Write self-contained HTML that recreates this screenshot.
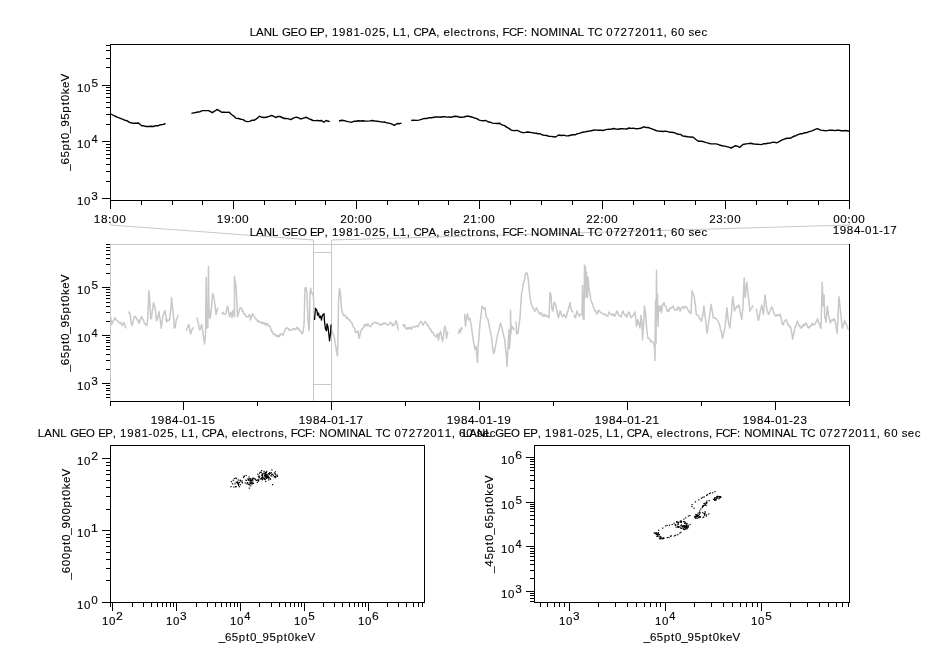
<!DOCTYPE html>
<html><head><meta charset="utf-8"><style>
html,body{margin:0;padding:0;background:#fff;}
svg{display:block;will-change:transform;}
text{font-family:"Liberation Sans",sans-serif;font-size:11.3px;fill:#000;stroke:#000;stroke-width:0.12px;}
</style></head><body>
<svg width="926" height="647" viewBox="0 0 926 647">
<rect width="926" height="647" fill="#fff"/>
<polyline points="110.5,222 110.5,225 313.5,240 313.5,401" fill="none" stroke="#c8c8c8" stroke-width="1"/>
<polyline points="849.5,222 849.5,225 331.5,240 331.5,401" fill="none" stroke="#c8c8c8" stroke-width="1"/>
<rect x="314" y="252" width="17" height="1" fill="#c8c8c8"/>
<rect x="314" y="384" width="17" height="1" fill="#c8c8c8"/>
<rect x="110" y="244" width="740" height="1" fill="#c8c8c8"/>
<rect x="110" y="244" width="1" height="158" fill="#c8c8c8"/>
<polyline points="110.8,317.1 111.7,324.5 112.6,322.7 113.2,320.5 113.8,320.0 114.4,319.6 115.0,317.6 115.8,319.2 116.5,320.3 117.3,320.8 118.0,321.2 118.7,322.7 119.4,322.6 120.1,323.1 120.9,322.8 121.6,324.6 122.4,325.5 123.3,323.1 124.2,323.1 125.0,325.9 125.8,327.7 126.6,328.2" fill="none" stroke="#c8c8c8" stroke-width="1.5" stroke-linejoin="round"/>
<polyline points="128.4,311.5 129.0,313.0 129.7,313.2 130.3,315.3 131.0,321.6 131.7,325.5 132.4,324.4 133.1,321.0 133.7,319.3 134.4,316.6 135.0,316.5 135.6,317.1 136.2,317.9 136.8,319.0 137.5,320.4 138.2,320.1 138.8,323.0 139.5,322.7 140.1,320.1 140.7,318.9 141.3,317.1 141.9,316.6 142.6,319.1 143.2,319.8 143.9,321.8 144.6,323.6 145.2,323.6 145.8,324.9 146.4,324.8 147.0,325.5 147.9,316.2 148.8,290.7 149.7,298.6 150.7,319.0 151.6,317.1 152.2,311.5 152.9,307.3 153.5,302.7 154.1,304.5 154.7,306.4 155.3,309.7 156.0,316.1 156.7,320.8 157.5,318.2 158.2,315.0 159.0,311.5 159.7,317.1 160.4,320.8 161.3,328.2 162.0,322.4 162.7,317.1 163.5,314.6 164.2,312.6 165.0,310.6 165.7,315.9 166.4,321.7 167.0,321.8 167.7,319.7 168.3,320.5 169.0,320.4 169.6,319.9 170.3,313.0 171.0,306.9 171.5,297.6 172.4,306.0 173.3,314.3 174.3,328.2 175.2,327.3 175.9,321.9 176.6,319.0 177.2,318.3 177.9,315.3 178.5,315.3" fill="none" stroke="#c8c8c8" stroke-width="1.5" stroke-linejoin="round"/>
<polyline points="186.3,331.0 187.1,327.9 187.9,327.0 188.7,324.5 189.3,326.7 189.9,331.3 190.5,333.8 191.3,332.1 192.0,329.5 192.8,327.8 193.3,329.2" fill="none" stroke="#c8c8c8" stroke-width="1.5" stroke-linejoin="round"/>
<polyline points="197.0,317.1 197.7,321.6 198.4,323.5 199.1,327.4 199.8,330.1 200.7,327.9 201.6,324.5 202.2,327.9 202.9,331.7 203.5,336.9 204.5,343.9 205.5,335.4 206.2,277.4 206.8,328.0 207.8,328.0 208.5,266.6 209.0,316.8 209.5,310.6 210.0,318.4 211.0,312.2 211.8,303.2 212.5,293.6 213.5,295.2 214.5,301.4 215.5,309.1 216.0,314.5 217.0,310.6 217.8,307.5" fill="none" stroke="#c8c8c8" stroke-width="1.5" stroke-linejoin="round"/>
<polyline points="221.5,313.0 222.2,313.8 223.0,312.2 223.8,313.9 224.5,313.7 225.2,314.3 226.0,313.7 226.8,309.1 227.5,306.0 228.5,310.6 229.5,316.8 230.2,314.1 231.0,312.2 232.0,317.6 233.0,310.6 233.8,314.3 234.5,316.8 234.5,276.6 235.2,282.0 236.0,285.9 237.0,304.5 237.5,316.8 238.5,313.7 239.5,309.1 240.2,307.6 240.8,307.7 241.5,308.3 242.2,310.9 242.8,310.4 243.5,313.0 244.1,314.2 244.8,314.1 245.4,315.6 246.0,316.0 246.7,317.2 247.3,316.7 248.0,316.8 248.8,315.4 249.5,314.5 250.5,320.0 251.2,317.4 251.8,316.1 252.5,313.7 253.2,315.1 253.8,315.5 254.5,316.8 255.1,317.7 255.7,318.8 256.3,319.0 256.9,319.7 257.5,321.5 258.2,321.8 258.9,320.7 259.6,322.2 260.3,322.8 261.0,322.2 261.6,323.2 262.2,321.9 262.8,322.5 263.4,323.9 264.0,323.0 264.6,322.9 265.2,324.9 265.8,323.1 266.4,325.1 267.0,324.5 267.6,323.6 268.2,325.6 268.8,326.3 269.4,325.9 270.0,326.1 270.6,328.0 271.2,330.3 271.8,332.0 272.4,331.4 273.0,333.8 273.6,334.3 274.2,333.5 274.8,334.9 275.4,334.7 276.0,336.1 276.6,335.4 277.2,336.7 277.8,335.5 278.4,335.8 279.0,336.9 279.7,334.6 280.3,335.6 281.0,333.8 281.7,333.7 282.3,333.8 283.0,335.4 283.7,333.6 284.3,331.8 285.0,329.2 285.7,329.0 286.3,328.3 287.0,327.6 287.6,328.2 288.2,329.1 288.8,328.5 289.4,330.4 290.0,330.0 290.6,330.2 291.2,330.3 291.8,330.1 292.4,329.6 293.0,328.4 293.6,328.6 294.2,328.8 294.8,329.5 295.4,329.2 296.0,329.2 296.8,327.2 297.5,327.6 298.1,329.5 298.8,328.4 299.4,329.9 300.0,330.7 300.7,331.6 301.3,331.7 302.0,333.8 303.0,332.3 304.0,324.5 305.0,288.2 306.0,287.5 307.0,293.6 308.0,320.0 309.0,330.7 309.5,321.5 310.0,292.1 310.8,288.2 311.5,293.6 312.1,293.5 312.8,292.9 313.5,298.3 314.0,309.1" fill="none" stroke="#c8c8c8" stroke-width="1.5" stroke-linejoin="round"/>
<polyline points="331.5,329.2 332.2,332.5 333.0,333.8 333.8,335.8 334.5,338.5 335.2,343.9 336.0,347.7 336.8,353.0 337.5,355.9 338.0,335.4 338.5,301.4 339.5,288.2 340.5,293.6 341.5,309.1 342.2,311.3 343.0,314.5 343.6,315.7 344.2,315.0 344.8,315.0 345.4,315.9 346.0,316.8 346.6,318.1 347.2,317.2 347.8,319.1 348.4,319.0 349.0,320.0 349.6,319.7 350.2,321.0 350.8,321.5 351.4,322.3 352.0,323.0 352.7,325.5 353.3,327.2 354.0,327.6 354.7,328.5 355.3,332.0 356.0,332.3 356.7,332.1 357.3,332.4 358.0,330.7 359.0,338.5 359.7,336.7 360.3,333.4 361.0,330.7 361.7,329.0 362.3,329.7 363.0,327.6 363.8,327.3 364.5,324.5 365.2,325.6 366.0,326.1 366.7,324.3 367.3,325.4 368.0,323.8 368.7,325.3 369.3,326.3 370.0,326.1 370.7,326.6 371.3,325.8 372.0,323.8 372.6,324.1 373.2,322.9 373.8,322.9 374.4,322.5 375.0,322.2 375.6,323.0 376.2,322.8 376.8,323.5 377.4,322.9 378.0,323.0 378.6,323.5 379.2,324.8 379.8,324.7 380.4,325.3 381.0,324.5 381.6,324.9 382.2,323.2 382.8,323.9 383.4,323.4 384.0,323.8 384.6,323.3 385.2,323.1 385.8,323.2 386.4,324.3 387.0,324.5 387.6,324.9 388.2,324.9 388.8,324.8 389.4,323.5 390.0,323.0 390.6,322.2 391.2,323.1 391.8,323.2 392.4,325.8 393.0,325.3 393.7,324.3 394.3,324.9 395.0,323.8 396.0,320.7 396.8,323.3 397.5,326.1 398.5,330.7" fill="none" stroke="#c8c8c8" stroke-width="1.5" stroke-linejoin="round"/>
<polyline points="402.5,324.5 403.1,325.4 403.8,326.3 404.4,324.4 405.0,326.1 405.7,328.3 406.3,329.0 407.0,329.2 407.7,327.5 408.3,328.9 409.0,327.6 409.7,328.7 410.3,327.3 411.0,328.4 411.7,329.1 412.3,327.0 413.0,326.9 413.6,326.6 414.2,327.0 414.8,326.9 415.4,326.9 416.0,326.1 416.7,325.8 417.3,326.6 418.0,326.9 418.8,324.4 419.5,323.8 420.5,321.5 421.2,321.7 422.0,323.0 423.0,325.3 423.8,323.7 424.5,322.2 425.2,321.5 426.0,323.0 426.7,323.4 427.3,325.4 428.0,325.3 428.7,325.8 429.3,327.7 430.0,329.2 430.7,329.0 431.3,331.9 432.0,332.3 432.7,332.0 433.3,333.0 434.0,334.6 434.7,336.0 435.3,336.0 436.0,336.9 436.8,335.5 437.5,333.8 438.5,340.0 439.5,333.8 440.5,331.5 441.5,336.9 442.5,341.6 443.5,335.4 444.5,327.6 445.0,326.1 446.0,330.7 446.5,338.5 447.5,332.3 448.0,333.8" fill="none" stroke="#c8c8c8" stroke-width="1.5" stroke-linejoin="round"/>
<polyline points="458.5,333.8 459.5,329.2 460.5,332.3 461.5,327.6 462.5,329.2" fill="none" stroke="#c8c8c8" stroke-width="1.5" stroke-linejoin="round"/>
<polyline points="464.5,313.7 465.5,326.1 466.5,316.8 467.5,313.7 468.5,320.0 469.2,318.2 470.0,318.4 471.0,324.5 472.0,330.7 473.0,338.5 474.0,344.6 475.0,349.3 476.0,346.2 476.8,355.1 477.5,362.4 478.0,347.7 479.0,336.9 480.0,323.0 481.0,315.3 482.0,306.0 483.0,307.5 484.0,309.1 485.0,307.6 485.8,313.7 486.5,317.8 487.2,318.4 488.0,319.5 488.8,323.2 489.5,328.0 490.2,330.6 491.0,334.8 491.8,339.7 492.5,346.7 493.5,353.5 494.5,351.8 495.2,346.8 496.0,343.3 496.8,338.3 497.5,334.8 498.2,333.2 499.0,329.7 499.8,325.5 500.5,322.9 501.5,326.3 502.2,328.9 503.0,333.1 503.8,336.8 504.5,338.2 505.5,348.4 506.5,356.9 507.0,366.3 507.5,356.9 508.5,338.2 509.0,329.7 509.5,348.4 510.5,334.8 510.5,310.2 511.0,333.1 511.5,325.5 512.2,328.0 512.8,327.3 513.5,329.7 514.0,328.0" fill="none" stroke="#c8c8c8" stroke-width="1.5" stroke-linejoin="round"/>
<polyline points="516.0,321.2 516.5,334.0 517.2,333.0 518.0,333.1 519.0,324.6 520.0,317.8 520.5,309.3 521.5,294.0 522.5,288.9 523.5,282.1 524.5,280.4 525.5,273.6 526.2,273.1 527.0,272.8 528.0,277.0 529.0,287.2 530.0,297.4 531.0,302.5 531.8,305.2 532.5,307.6 533.2,307.7 533.8,309.9 534.5,311.0 535.2,311.1 535.8,308.9 536.5,307.6 537.2,309.3 538.0,311.0 538.7,312.9 539.3,313.1 540.0,314.4 540.8,313.0 541.5,312.7 542.2,315.3 543.0,316.1 543.7,314.7 544.3,316.0 545.0,314.4 545.7,316.0 546.3,315.7 547.0,316.1 547.7,316.7 548.3,316.1 549.0,317.8 549.5,305.9 550.0,292.3 551.0,295.7 552.0,309.3 553.0,311.0 554.0,302.5 554.8,302.5 555.5,304.2 556.2,308.3 557.0,311.0 557.8,315.0 558.5,317.8 559.2,314.7 560.0,311.0 560.7,311.8 561.3,315.0 562.0,316.1 562.7,316.8 563.3,315.9 564.0,314.4 564.7,316.0 565.3,316.5 566.0,317.8 566.7,315.3 567.3,312.4 568.0,311.0 568.7,307.0 569.3,306.5 570.0,302.5 571.0,309.3 572.0,311.0 573.0,312.7" fill="none" stroke="#c8c8c8" stroke-width="1.5" stroke-linejoin="round"/>
<polyline points="574.0,314.4 574.8,317.2 575.5,317.8 576.2,314.1 577.0,311.0 577.7,313.5 578.3,313.7 579.0,316.1 579.7,315.5 580.3,314.4 581.0,314.4 582.0,314.5 582.5,285.6 583.0,317.9 584.0,319.6 584.5,265.2 585.5,266.9 586.0,297.5 586.5,272.0 587.5,297.5 588.0,277.1 589.0,289.0 590.0,294.1 591.0,300.9 591.7,302.7 592.3,303.2 593.0,306.0 593.7,307.5 594.3,308.9 595.0,311.1 595.7,310.8 596.3,313.7 597.0,313.7 597.7,313.6 598.3,310.5 599.0,310.3 599.7,311.5 600.3,312.0 601.0,312.8 601.7,312.9 602.3,313.6 603.0,313.7 603.7,314.4 604.3,313.7 605.0,314.5 605.7,314.7 606.3,315.7 607.0,316.2 607.7,316.1 608.3,314.5 609.0,312.0 609.7,313.6 610.3,313.6 611.0,314.5 611.7,315.3 612.3,315.2 613.0,313.7 613.7,315.5 614.3,314.6 615.0,316.2 615.7,314.3 616.3,312.1 617.0,311.1 617.7,312.4 618.3,314.9 619.0,315.4 619.7,316.0 620.3,316.1 621.0,317.1 621.7,314.2 622.3,312.2 623.0,311.1 623.7,313.1 624.3,314.5 625.0,314.5 625.7,316.4 626.3,314.9 627.0,317.1 627.7,314.8 628.3,312.8 629.0,312.0 629.7,313.9 630.3,315.2 631.0,317.9 631.7,317.0 632.3,316.1 633.0,315.4 633.7,314.6 634.3,313.2 635.0,312.0 635.8,319.2 636.5,326.4 637.2,321.8 638.0,319.6 638.7,323.6 639.3,325.1 640.0,328.1 641.0,315.4 642.0,323.0 642.5,340.0 643.5,326.4 644.5,306.0 645.5,312.8 646.5,326.4 647.2,333.3 648.0,338.3 648.7,338.4 649.3,338.4 650.0,340.0 650.7,341.8 651.3,341.1 652.0,341.7 652.8,341.7 653.5,343.4 654.5,346.8 655.0,360.4 655.5,300.9 656.0,343.4 656.5,270.3 657.0,319.6 657.5,294.1 658.0,326.4 658.5,306.0 659.5,311.1 660.5,306.0 661.5,312.8 662.5,304.3 663.2,304.7 664.0,302.6 664.8,305.4 665.5,306.0 666.2,307.1 667.0,310.3 667.7,311.7 668.3,309.9 669.0,311.1 669.7,309.0 670.3,307.9 671.0,307.7 671.7,308.1 672.3,306.8 673.0,306.0 673.7,307.6 674.3,309.4 675.0,310.3 675.7,309.8 676.3,309.2 677.0,310.3 677.8,307.5 678.5,306.9 679.2,308.3 680.0,311.1 680.7,310.2 681.3,307.7 682.0,307.7 682.7,306.8 683.3,307.5 684.0,308.6 684.7,306.8 685.3,306.3 686.0,306.9 686.7,307.1 687.3,308.2 688.0,310.3 688.7,310.4 689.3,312.3 690.0,312.0 691.0,313.7 692.0,290.7 692.6,293.3 693.3,293.7 694.0,296.0 694.6,299.2 695.5,306.4 696.3,314.5 696.9,314.8 697.5,315.2 698.2,315.9 698.8,316.2 699.4,318.1 700.1,319.1 700.8,319.4 701.4,321.3 702.2,317.3 703.0,314.5 703.9,306.0 704.8,314.1 705.6,319.6 706.3,326.5 707.0,333.2 707.7,329.7 708.3,325.2 709.0,319.6 709.7,315.3 710.5,309.7 711.2,304.3 711.9,309.5 712.6,312.8 713.3,317.9 714.0,317.5 714.7,318.3 715.3,318.1 716.0,318.4 716.7,319.6 717.4,319.9 718.0,321.5 718.7,322.4 719.3,324.1 720.0,326.4 720.6,330.0 721.3,331.2 722.0,335.9 722.6,338.3 723.2,335.9 723.9,331.5 724.6,329.3 725.2,326.4 726.0,317.3 726.9,307.7 727.8,316.5 728.6,323.0 729.8,328.1 730.6,320.7 731.5,312.8 732.1,303.8 732.8,296.7 733.6,302.7 734.5,311.1 735.1,309.0 735.8,307.6 736.5,308.1 737.1,306.0 737.8,306.9 738.6,305.0 739.3,306.0 739.9,310.1 740.5,313.8 741.1,315.5 741.7,319.6 742.4,312.8 743.0,306.0 743.6,291.3 744.2,278.0 745.2,297.5 746.0,289.7 746.9,282.2 747.5,288.8 748.1,294.1 749.0,301.8 749.8,311.1 750.4,309.8 751.1,308.9 751.8,308.2 752.4,306.0 753.2,306.9" fill="none" stroke="#c8c8c8" stroke-width="1.5" stroke-linejoin="round"/>
<polyline points="756.3,308.6 757.0,313.4 757.6,315.8 758.3,320.5 759.0,318.6 759.7,314.4 760.3,311.1 761.0,308.6 761.7,305.2 762.5,309.0 763.4,314.5 764.2,304.0 765.1,295.0 766.0,302.0 766.8,309.4 767.6,311.2 768.5,314.5 769.2,313.2 770.0,311.1 770.9,308.8 771.7,306.9 772.4,308.5 773.0,310.1 773.6,311.9 774.3,314.5 775.0,315.2 775.7,315.9 776.3,314.7 777.0,316.0 777.7,315.4 778.3,314.7 779.0,315.6 779.6,314.0 780.2,314.5 780.9,317.2 781.5,319.4 782.1,323.1 782.8,324.7 783.5,324.4 784.2,321.6 784.8,320.6 785.5,320.5 786.2,319.6 787.0,321.4 787.9,324.7 788.5,324.4 789.1,326.7 789.8,327.1 790.4,326.4 791.1,329.4 791.9,333.7 792.6,339.2 793.3,335.8 794.0,333.0 794.7,328.1 795.3,327.4 796.0,325.2 796.6,323.6 797.2,321.3 797.9,322.6 798.6,324.0 799.2,326.3 799.9,325.7 800.6,328.1 801.2,327.9 801.9,327.4 802.5,325.3 803.2,326.3 803.8,324.1 804.4,325.5 805.1,324.3 805.7,323.0 806.4,323.9 807.1,325.3 807.7,327.3 808.4,326.7 809.1,328.1 809.8,326.3 810.4,326.5 811.1,326.0 811.7,323.9 812.3,323.2 813.0,325.0 813.6,324.2 814.2,324.7 814.9,324.0 815.6,322.3 816.2,322.3 816.9,320.2 817.6,318.8 818.3,321.9 819.0,323.7 819.6,323.4 820.3,327.4 821.0,328.1 821.6,305.8 822.2,282.2 823.2,306.0 824.1,295.0 824.8,317.9 825.5,319.1 826.1,322.2 827.3,306.0 828.0,311.3 828.7,316.2 829.5,319.0 830.4,323.0 831.1,321.0 831.8,320.2 832.4,320.1 833.1,320.6 833.8,318.8 834.6,319.8 835.5,323.0 836.4,328.3 837.2,333.2 838.0,315.9 838.9,296.7 839.8,304.4 840.6,312.8 841.5,321.0 842.3,328.1 842.9,326.4 843.5,325.0 844.2,322.4 844.8,320.5 845.5,323.6 846.2,324.0 846.8,325.3 847.5,327.0 848.2,329.8" fill="none" stroke="#c8c8c8" stroke-width="1.5" stroke-linejoin="round"/>
<polyline points="314.5,320.0 315.5,308.3 317.0,310.6 317.5,315.3 318.5,313.0 319.5,317.6 320.5,316.0 321.5,320.0 322.0,316.8 323.0,314.5 324.0,313.7 324.5,321.5 325.5,329.2 326.5,330.7 327.0,323.8 328.0,326.9 329.0,335.4 329.5,340.8 330.5,333.8 331.0,324.5" fill="none" stroke="#000" stroke-width="1.3" stroke-linejoin="round"/>
<rect x="110" y="401" width="740" height="1" fill="#000"/>
<rect x="849" y="244" width="1" height="158" fill="#000"/>
<rect x="106" y="397" width="4" height="1" fill="#000"/>
<rect x="106" y="394" width="4" height="1" fill="#000"/>
<rect x="106" y="390" width="4" height="1" fill="#000"/>
<rect x="106" y="388" width="4" height="1" fill="#000"/>
<rect x="106" y="385" width="4" height="1" fill="#000"/>
<rect x="102" y="383" width="8" height="1" fill="#000"/>
<text transform="scale(1.0161,1)" x="75.80 82.77" y="389.80">10</text>
<text transform="scale(1.0453,1)" x="87.38" y="385.00">3</text>
<rect x="106" y="369" width="4" height="1" fill="#000"/>
<rect x="106" y="360" width="4" height="1" fill="#000"/>
<rect x="106" y="354" width="4" height="1" fill="#000"/>
<rect x="106" y="349" width="4" height="1" fill="#000"/>
<rect x="106" y="346" width="4" height="1" fill="#000"/>
<rect x="106" y="342" width="4" height="1" fill="#000"/>
<rect x="106" y="340" width="4" height="1" fill="#000"/>
<rect x="106" y="337" width="4" height="1" fill="#000"/>
<rect x="102" y="335" width="8" height="1" fill="#000"/>
<text transform="scale(1.0161,1)" x="75.80 82.77" y="341.80">10</text>
<text transform="scale(0.9835,1)" x="93.09" y="337.00">4</text>
<rect x="106" y="321" width="4" height="1" fill="#000"/>
<rect x="106" y="312" width="4" height="1" fill="#000"/>
<rect x="106" y="306" width="4" height="1" fill="#000"/>
<rect x="106" y="302" width="4" height="1" fill="#000"/>
<rect x="106" y="298" width="4" height="1" fill="#000"/>
<rect x="106" y="295" width="4" height="1" fill="#000"/>
<rect x="106" y="292" width="4" height="1" fill="#000"/>
<rect x="106" y="289" width="4" height="1" fill="#000"/>
<rect x="102" y="287" width="8" height="1" fill="#000"/>
<text transform="scale(1.0161,1)" x="75.80 82.77" y="293.80">10</text>
<text transform="scale(1.0453,1)" x="87.42" y="289.00">5</text>
<rect x="106" y="273" width="4" height="1" fill="#000"/>
<rect x="106" y="264" width="4" height="1" fill="#000"/>
<rect x="106" y="258" width="4" height="1" fill="#000"/>
<rect x="106" y="254" width="4" height="1" fill="#000"/>
<rect x="106" y="250" width="4" height="1" fill="#000"/>
<rect x="106" y="247" width="4" height="1" fill="#000"/>
<rect x="106" y="244" width="4" height="1" fill="#000"/>
<rect x="110" y="401" width="1" height="5" fill="#000"/>
<rect x="183" y="401" width="1" height="9" fill="#000"/>
<text transform="scale(1.0285,1)" x="146.57 153.48 160.39 167.29 173.97 178.12 185.03 191.70 195.86 202.77" y="423.80">1984-01-15</text>
<rect x="257" y="401" width="1" height="5" fill="#000"/>
<rect x="331" y="401" width="1" height="9" fill="#000"/>
<text transform="scale(1.0323,1)" x="289.39 296.27 303.15 310.04 316.69 320.82 327.70 334.35 338.48 345.36" y="423.80">1984-01-17</text>
<rect x="405" y="401" width="1" height="5" fill="#000"/>
<rect x="479" y="401" width="1" height="9" fill="#000"/>
<text transform="scale(1.0358,1)" x="431.28 438.12 444.96 451.80 458.42 462.52 469.36 475.98 480.07 486.91" y="423.80">1984-01-19</text>
<rect x="553" y="401" width="1" height="5" fill="#000"/>
<rect x="627" y="401" width="1" height="9" fill="#000"/>
<text transform="scale(1.0319,1)" x="576.36 583.25 590.14 597.03 603.69 607.83 614.72 621.39 625.53 632.42" y="423.80">1984-01-21</text>
<rect x="701" y="401" width="1" height="5" fill="#000"/>
<rect x="775" y="401" width="1" height="9" fill="#000"/>
<text transform="scale(1.0299,1)" x="721.17 728.06 734.95 741.84 748.50 752.64 759.53 766.19 770.33 777.22" y="423.80">1984-01-23</text>
<rect x="849" y="401" width="1" height="5" fill="#000"/>
<text transform="scale(1.0138,1)" x="246.25 252.53 260.19 268.40 274.85 278.11 286.57 293.84 302.82 305.91 312.79 320.12 323.66 327.40 334.48 341.57 348.66 355.47 359.76 366.85 373.93 380.82 384.36 387.66 394.31 401.19 404.73 407.88 415.44 422.61 430.39 433.93 437.55 444.41 447.50 454.30 460.80 464.96 469.40 476.34 483.08 489.01 492.55 495.64 502.11 509.83 516.79 520.43 523.86 532.09 540.97 550.55 553.85 562.14 569.68 576.12 579.41 586.08 594.24 597.99 605.07 612.16 619.24 626.33 633.42 640.50 647.59 654.47 658.02 661.76 668.84 675.73 679.14 685.15 691.96" y="236.50">LANL GEO EP, 1981-025, L1, CPA, electrons, FCF: NOMINAL TC 07272011, 60 sec</text>
<text transform="translate(68.6,323) rotate(-90) scale(1.0254,1)" x="-47.40 -41.29 -34.45 -27.62 -20.52 -16.57 -10.46 -4.35 2.49 9.33 16.42 20.38 27.23 33.34 39.70" y="0">_65pt0_95pt0keV</text>
<text transform="scale(1.0138,1)" x="246.25 252.53 260.19 268.40 274.85 278.11 286.57 293.84 302.82 305.91 312.79 320.12 323.66 327.40 334.48 341.57 348.66 355.47 359.76 366.85 373.93 380.82 384.36 387.66 394.31 401.19 404.73 407.88 415.44 422.61 430.39 433.93 437.55 444.41 447.50 454.30 460.80 464.96 469.40 476.34 483.08 489.01 492.55 495.64 502.11 509.83 516.79 520.43 523.86 532.09 540.97 550.55 553.85 562.14 569.68 576.12 579.41 586.08 594.24 597.99 605.07 612.16 619.24 626.33 633.42 640.50 647.59 654.47 658.02 661.76 668.84 675.73 679.14 685.15 691.96" y="35.80">LANL GEO EP, 1981-025, L1, CPA, electrons, FCF: NOMINAL TC 07272011, 60 sec</text>
<rect x="110" y="44" width="740" height="1" fill="#000"/>
<rect x="110" y="200" width="740" height="1" fill="#000"/>
<rect x="110" y="44" width="1" height="157" fill="#000"/>
<rect x="849" y="44" width="1" height="157" fill="#000"/>
<rect x="102" y="198" width="8" height="1" fill="#000"/>
<text transform="scale(1.0161,1)" x="75.80 82.77" y="204.80">10</text>
<text transform="scale(1.0453,1)" x="87.38" y="200.00">3</text>
<rect x="106" y="181" width="4" height="1" fill="#000"/>
<rect x="106" y="171" width="4" height="1" fill="#000"/>
<rect x="106" y="164" width="4" height="1" fill="#000"/>
<rect x="106" y="158" width="4" height="1" fill="#000"/>
<rect x="106" y="154" width="4" height="1" fill="#000"/>
<rect x="106" y="150" width="4" height="1" fill="#000"/>
<rect x="106" y="147" width="4" height="1" fill="#000"/>
<rect x="106" y="144" width="4" height="1" fill="#000"/>
<rect x="102" y="141" width="8" height="1" fill="#000"/>
<text transform="scale(1.0161,1)" x="75.80 82.77" y="147.80">10</text>
<text transform="scale(0.9835,1)" x="93.09" y="143.00">4</text>
<rect x="106" y="124" width="4" height="1" fill="#000"/>
<rect x="106" y="114" width="4" height="1" fill="#000"/>
<rect x="106" y="107" width="4" height="1" fill="#000"/>
<rect x="106" y="102" width="4" height="1" fill="#000"/>
<rect x="106" y="97" width="4" height="1" fill="#000"/>
<rect x="106" y="93" width="4" height="1" fill="#000"/>
<rect x="106" y="90" width="4" height="1" fill="#000"/>
<rect x="106" y="87" width="4" height="1" fill="#000"/>
<rect x="102" y="85" width="8" height="1" fill="#000"/>
<text transform="scale(1.0161,1)" x="75.80 82.77" y="91.80">10</text>
<text transform="scale(1.0453,1)" x="87.42" y="87.00">5</text>
<rect x="106" y="67" width="4" height="1" fill="#000"/>
<rect x="106" y="58" width="4" height="1" fill="#000"/>
<rect x="106" y="50" width="4" height="1" fill="#000"/>
<rect x="106" y="45" width="4" height="1" fill="#000"/>
<rect x="110" y="200" width="1" height="9" fill="#000"/>
<text transform="scale(1.0453,1)" x="89.75 96.61 103.43 107.11 113.97" y="222.80">18:00</text>
<rect x="141" y="200" width="1" height="5" fill="#000"/>
<rect x="172" y="200" width="1" height="5" fill="#000"/>
<rect x="202" y="200" width="1" height="5" fill="#000"/>
<rect x="233" y="200" width="1" height="9" fill="#000"/>
<text transform="scale(1.0507,1)" x="206.33 213.16 219.95 223.60 230.42" y="222.80">19:00</text>
<rect x="264" y="200" width="1" height="5" fill="#000"/>
<rect x="295" y="200" width="1" height="5" fill="#000"/>
<rect x="325" y="200" width="1" height="5" fill="#000"/>
<rect x="356" y="200" width="1" height="9" fill="#000"/>
<text transform="scale(1.0303,1)" x="330.23 337.10 343.92 347.60 354.47" y="222.80">20:00</text>
<rect x="387" y="200" width="1" height="5" fill="#000"/>
<rect x="418" y="200" width="1" height="5" fill="#000"/>
<rect x="448" y="200" width="1" height="5" fill="#000"/>
<rect x="479" y="200" width="1" height="9" fill="#000"/>
<text transform="scale(1.0198,1)" x="454.29 461.23 468.11 471.85 478.79" y="222.80">21:00</text>
<rect x="510" y="200" width="1" height="5" fill="#000"/>
<rect x="541" y="200" width="1" height="5" fill="#000"/>
<rect x="572" y="200" width="1" height="5" fill="#000"/>
<rect x="602" y="200" width="1" height="9" fill="#000"/>
<text transform="scale(1.0215,1)" x="573.91 580.84 587.71 591.44 598.36" y="222.80">22:00</text>
<rect x="633" y="200" width="1" height="5" fill="#000"/>
<rect x="664" y="200" width="1" height="5" fill="#000"/>
<rect x="695" y="200" width="1" height="5" fill="#000"/>
<rect x="725" y="200" width="1" height="9" fill="#000"/>
<text transform="scale(1.0204,1)" x="695.06 701.99 708.87 712.60 719.53" y="222.80">23:00</text>
<rect x="756" y="200" width="1" height="5" fill="#000"/>
<rect x="787" y="200" width="1" height="5" fill="#000"/>
<rect x="818" y="200" width="1" height="5" fill="#000"/>
<rect x="849" y="200" width="1" height="9" fill="#000"/>
<text transform="scale(1.0361,1)" x="804.25 811.06 817.84 821.48 828.29" y="222.80">00:00</text>
<text transform="scale(1.0306,1)" x="807.94 814.82 821.70 828.58 835.24 839.37 846.25 852.90 857.03 863.91" y="233.70">1984-01-17</text>
<text transform="translate(68.6,122.2) rotate(-90) scale(1.0254,1)" x="-47.40 -41.29 -34.45 -27.62 -20.52 -16.57 -10.46 -4.35 2.49 9.33 16.42 20.38 27.23 33.34 39.70" y="0">_65pt0_95pt0keV</text>
<polyline points="111.0,114.0 114.7,116.0 117.2,117.1 119.8,118.1 122.3,119.2 124.7,120.2 127.2,120.8 129.6,122.4 132.0,123.0 134.2,123.3 136.3,123.2 138.5,123.0 141.7,125.7 143.8,125.8 146.0,126.5 148.5,126.5 151.1,126.3 153.6,126.5 155.7,125.7 157.9,125.8 160.0,124.8 162.8,124.6 165.5,123.5" fill="none" stroke="#000" stroke-width="1.4" stroke-linejoin="round"/>
<polyline points="191.4,113.4 193.6,112.9 195.7,112.5 197.9,112.0 200.1,111.7 202.2,110.6 204.4,110.6 206.5,110.6 208.7,110.6 212.3,112.7 214.6,111.2 216.9,109.5 219.2,110.6 221.6,112.3 224.1,112.3 226.7,112.4 229.2,112.3 231.4,114.5 233.5,115.8 235.7,118.1 238.3,118.5 241.0,119.2 243.2,119.6 245.3,121.1 247.5,121.6 249.7,121.4 251.8,120.3 254.0,120.3 256.7,118.7 259.4,116.2 262.1,117.3 264.8,117.5 267.0,117.0 269.1,116.3 271.3,115.5 273.5,116.2 275.6,117.5 277.8,116.5 280.0,116.5 282.1,117.5 284.3,118.5 286.4,118.4 288.6,118.9 290.7,119.6 293.4,118.1 296.1,117.2 298.3,117.6 300.5,119.0 302.5,118.4 304.5,117.8 306.5,117.3 308.7,118.7 310.8,119.5 313.0,120.5 315.1,120.6 317.3,120.5 319.5,120.7 321.6,120.5 323.8,122.2 326.0,120.5 329.8,121.6" fill="none" stroke="#000" stroke-width="1.4" stroke-linejoin="round"/>
<polyline points="338.9,121.0 342.1,120.3 344.5,120.7 347.0,121.4 349.4,121.9 351.8,122.2 354.0,121.3 356.2,121.2 358.4,120.7 360.5,121.0 362.6,120.8 364.8,121.0 367.3,121.1 369.9,120.9 372.4,120.5 374.9,121.0 377.4,121.3 379.9,121.6 382.1,122.1 384.2,122.0 386.4,122.7 388.6,123.1 391.5,123.9 394.4,125.3 397.2,123.5 399.4,123.7 401.5,123.1" fill="none" stroke="#000" stroke-width="1.4" stroke-linejoin="round"/>
<polyline points="411.2,120.5 413.7,120.1 416.3,120.4 418.8,120.1 421.5,119.4 424.2,118.4 426.7,118.5 429.2,117.6 431.7,117.7 433.9,117.3 436.0,117.0 438.2,116.9 440.3,117.2 442.5,116.8 444.7,116.6 446.9,117.1 449.0,116.9 451.2,117.3 453.4,116.5 455.5,116.2 457.7,116.5 459.8,117.3 462.0,117.3 464.2,117.0 466.3,116.1 468.5,116.2 471.7,117.0 474.2,117.8 476.8,118.7 479.3,120.1 481.4,120.6 483.6,120.7 485.7,120.5 487.9,121.7 490.0,122.2 492.5,123.1 495.0,123.4 497.1,123.5 499.3,123.2 502.0,124.8 504.7,125.6 506.9,127.4 509.0,128.4 511.2,130.1 513.4,130.6 515.5,130.4 517.7,130.5 520.4,131.9 523.1,132.7 525.2,132.4 527.4,132.0 529.6,132.3 531.7,132.6 533.9,133.0 536.0,133.3 538.2,133.8 540.4,133.8 542.5,135.0 544.6,135.4 546.8,135.5 549.0,136.4 551.1,136.4 553.3,136.7 555.5,137.0 558.7,135.0 561.2,135.5 563.8,135.2 566.3,135.9 568.4,135.8 570.6,135.3 572.8,134.8 574.9,134.8 577.1,133.8 579.2,133.4 581.4,132.7 583.6,132.0 585.7,131.7 587.9,131.2 590.0,131.0 592.2,130.5 594.4,130.0 596.5,130.1 598.7,130.2 600.8,130.1 603.0,130.5 605.1,129.9 607.3,129.4 609.5,129.2 611.6,129.0 613.8,128.5 616.0,129.1 618.1,129.3 620.3,128.8 622.5,128.6 624.6,128.9 626.8,129.0 628.9,128.0 631.1,128.4 633.6,128.1 636.1,128.8 638.6,128.6 641.3,128.0 644.0,126.8 646.2,127.5 648.3,127.5 650.5,128.4 653.2,129.4 655.9,130.5 658.3,131.1 660.7,131.3 663.0,131.5 665.4,131.1 667.8,131.6 670.0,132.3 672.1,132.2 674.3,132.7 676.5,133.7 678.6,134.2 680.7,134.5 682.9,136.1 685.0,136.3 687.5,136.8 690.0,137.0 693.2,137.2 695.9,139.5 698.6,141.3 701.3,141.3 704.0,141.8 706.2,142.6 708.3,143.1 710.5,143.7 713.2,143.9 715.9,143.9 718.1,144.4 720.2,145.3 722.4,145.7 724.5,146.1 726.7,146.6 728.9,147.1 731.0,148.0 733.2,147.0 735.4,145.7 737.5,146.2 739.7,147.4 742.9,144.5 746.2,143.9 748.3,143.6 750.5,143.3 752.6,143.7 754.8,144.1 757.0,144.2 759.1,144.4 761.3,144.6 763.4,143.8 765.6,143.8 767.8,143.3 769.9,143.1 772.1,142.4 774.2,142.1 776.4,142.8 778.6,142.0 780.7,140.6 782.9,139.7 785.0,138.8 787.2,138.2 789.3,138.2 791.5,137.7 793.7,136.3 795.9,135.7 798.0,134.6 800.2,133.8 802.3,133.8 804.5,132.6 806.6,132.7 809.3,131.6 812.0,130.8 814.7,129.7 817.4,128.6 820.7,130.1 823.9,130.5 826.0,130.9 828.2,130.4 830.4,130.3 832.5,130.3 834.7,130.6 836.9,130.3 839.0,130.2 841.2,130.8 843.4,130.7 845.5,130.5 849.4,131.2" fill="none" stroke="#000" stroke-width="1.4" stroke-linejoin="round"/>
<rect x="110" y="445" width="315" height="1" fill="#000"/>
<rect x="110" y="602" width="315" height="1" fill="#000"/>
<rect x="110" y="445" width="1" height="158" fill="#000"/>
<rect x="424" y="445" width="1" height="158" fill="#000"/>
<rect x="102" y="602" width="8" height="1" fill="#000"/>
<text transform="scale(1.0161,1)" x="75.80 82.77" y="608.80">10</text>
<text transform="scale(1.0367,1)" x="88.11" y="604.00">0</text>
<rect x="106" y="580" width="4" height="1" fill="#000"/>
<rect x="106" y="568" width="4" height="1" fill="#000"/>
<rect x="106" y="559" width="4" height="1" fill="#000"/>
<rect x="106" y="552" width="4" height="1" fill="#000"/>
<rect x="106" y="546" width="4" height="1" fill="#000"/>
<rect x="106" y="541" width="4" height="1" fill="#000"/>
<rect x="106" y="537" width="4" height="1" fill="#000"/>
<rect x="106" y="534" width="4" height="1" fill="#000"/>
<rect x="102" y="530" width="8" height="1" fill="#000"/>
<text transform="scale(1.0161,1)" x="75.80 82.77" y="536.80">10</text>
<text transform="scale(1.1494,1)" x="79.06" y="532.00">1</text>
<rect x="106" y="509" width="4" height="1" fill="#000"/>
<rect x="106" y="496" width="4" height="1" fill="#000"/>
<rect x="106" y="487" width="4" height="1" fill="#000"/>
<rect x="106" y="480" width="4" height="1" fill="#000"/>
<rect x="106" y="474" width="4" height="1" fill="#000"/>
<rect x="106" y="470" width="4" height="1" fill="#000"/>
<rect x="106" y="465" width="4" height="1" fill="#000"/>
<rect x="106" y="462" width="4" height="1" fill="#000"/>
<rect x="102" y="458" width="8" height="1" fill="#000"/>
<text transform="scale(1.0161,1)" x="75.80 82.77" y="464.80">10</text>
<text transform="scale(1.0878,1)" x="83.97" y="460.00">2</text>
<rect x="110" y="602" width="1" height="5" fill="#000"/>
<rect x="112" y="602" width="1" height="9" fill="#000"/>
<text transform="scale(1.0161,1)" x="100.36 107.33" y="624.70">10</text>
<text transform="scale(1.0878,1)" x="106.72" y="620.10">2</text>
<rect x="132" y="602" width="1" height="5" fill="#000"/>
<rect x="143" y="602" width="1" height="5" fill="#000"/>
<rect x="151" y="602" width="1" height="5" fill="#000"/>
<rect x="157" y="602" width="1" height="5" fill="#000"/>
<rect x="162" y="602" width="1" height="5" fill="#000"/>
<rect x="166" y="602" width="1" height="5" fill="#000"/>
<rect x="170" y="602" width="1" height="5" fill="#000"/>
<rect x="173" y="602" width="1" height="5" fill="#000"/>
<rect x="176" y="602" width="1" height="9" fill="#000"/>
<text transform="scale(1.0161,1)" x="163.34 170.31" y="624.70">10</text>
<text transform="scale(1.0453,1)" x="172.29" y="620.10">3</text>
<rect x="196" y="602" width="1" height="5" fill="#000"/>
<rect x="207" y="602" width="1" height="5" fill="#000"/>
<rect x="215" y="602" width="1" height="5" fill="#000"/>
<rect x="221" y="602" width="1" height="5" fill="#000"/>
<rect x="226" y="602" width="1" height="5" fill="#000"/>
<rect x="230" y="602" width="1" height="5" fill="#000"/>
<rect x="234" y="602" width="1" height="5" fill="#000"/>
<rect x="237" y="602" width="1" height="5" fill="#000"/>
<rect x="240" y="602" width="1" height="9" fill="#000"/>
<text transform="scale(1.0161,1)" x="226.33 233.30" y="624.70">10</text>
<text transform="scale(0.9835,1)" x="248.41" y="620.10">4</text>
<rect x="259" y="602" width="1" height="5" fill="#000"/>
<rect x="271" y="602" width="1" height="5" fill="#000"/>
<rect x="279" y="602" width="1" height="5" fill="#000"/>
<rect x="285" y="602" width="1" height="5" fill="#000"/>
<rect x="290" y="602" width="1" height="5" fill="#000"/>
<rect x="294" y="602" width="1" height="5" fill="#000"/>
<rect x="298" y="602" width="1" height="5" fill="#000"/>
<rect x="301" y="602" width="1" height="5" fill="#000"/>
<rect x="304" y="602" width="1" height="9" fill="#000"/>
<text transform="scale(1.0161,1)" x="289.31 296.28" y="624.70">10</text>
<text transform="scale(1.0453,1)" x="294.79" y="620.10">5</text>
<rect x="323" y="602" width="1" height="5" fill="#000"/>
<rect x="334" y="602" width="1" height="5" fill="#000"/>
<rect x="342" y="602" width="1" height="5" fill="#000"/>
<rect x="349" y="602" width="1" height="5" fill="#000"/>
<rect x="354" y="602" width="1" height="5" fill="#000"/>
<rect x="358" y="602" width="1" height="5" fill="#000"/>
<rect x="362" y="602" width="1" height="5" fill="#000"/>
<rect x="365" y="602" width="1" height="5" fill="#000"/>
<rect x="368" y="602" width="1" height="9" fill="#000"/>
<text transform="scale(1.0161,1)" x="352.30 359.27" y="624.70">10</text>
<text transform="scale(1.0740,1)" x="346.31" y="620.10">6</text>
<rect x="387" y="602" width="1" height="5" fill="#000"/>
<rect x="398" y="602" width="1" height="5" fill="#000"/>
<rect x="406" y="602" width="1" height="5" fill="#000"/>
<rect x="413" y="602" width="1" height="5" fill="#000"/>
<rect x="418" y="602" width="1" height="5" fill="#000"/>
<rect x="422" y="602" width="1" height="5" fill="#000"/>
<text transform="scale(1.0138,1)" x="37.34 43.62 51.28 59.49 65.94 69.20 77.66 84.93 93.91 97.00 103.88 111.21 114.75 118.49 125.57 132.66 139.75 146.56 150.85 157.94 165.02 171.91 175.45 178.75 185.40 192.28 195.82 198.97 206.53 213.70 221.47 225.02 228.64 235.50 238.59 245.39 251.89 256.05 260.49 267.43 274.17 280.10 283.64 286.73 293.20 300.92 307.88 311.52 314.95 323.18 332.06 341.64 344.94 353.23 360.77 367.21 370.50 377.17 385.33 389.08 396.16 403.25 410.33 417.42 424.51 431.59 438.68 445.56 449.11 452.85 459.93 466.82 470.23 476.24 483.05" y="436.90">LANL GEO EP, 1981-025, L1, CPA, electrons, FCF: NOMINAL TC 07272011, 60 sec</text>
<text transform="translate(70.2,524) rotate(-90) scale(1.0306,1)" x="-53.88 -47.82 -41.02 -34.23 -27.44 -20.39 -16.47 -10.41 -4.34 2.45 9.25 16.03 23.09 27.01 33.81 39.87 46.18" y="0">_600pt0_900pt0keV</text>
<text transform="scale(1.0190,1)" x="214.61 220.72 227.56 234.40 241.49 245.45 251.56 257.67 264.51 271.34 278.44 282.39 289.25 295.35 301.71" y="640.70">_65pt0_95pt0keV</text>
<rect x="534" y="445" width="316" height="1" fill="#000"/>
<rect x="534" y="602" width="316" height="1" fill="#000"/>
<rect x="534" y="445" width="1" height="158" fill="#000"/>
<rect x="849" y="445" width="1" height="158" fill="#000"/>
<rect x="530" y="601" width="4" height="1" fill="#000"/>
<rect x="530" y="598" width="4" height="1" fill="#000"/>
<rect x="530" y="595" width="4" height="1" fill="#000"/>
<rect x="530" y="593" width="4" height="1" fill="#000"/>
<rect x="526" y="591" width="8" height="1" fill="#000"/>
<text transform="scale(1.0161,1)" x="493.08 500.05" y="597.80">10</text>
<text transform="scale(1.0453,1)" x="493.03" y="593.00">3</text>
<rect x="530" y="578" width="4" height="1" fill="#000"/>
<rect x="530" y="570" width="4" height="1" fill="#000"/>
<rect x="530" y="564" width="4" height="1" fill="#000"/>
<rect x="530" y="560" width="4" height="1" fill="#000"/>
<rect x="530" y="556" width="4" height="1" fill="#000"/>
<rect x="530" y="553" width="4" height="1" fill="#000"/>
<rect x="530" y="551" width="4" height="1" fill="#000"/>
<rect x="530" y="548" width="4" height="1" fill="#000"/>
<rect x="526" y="546" width="8" height="1" fill="#000"/>
<text transform="scale(1.0161,1)" x="493.08 500.05" y="552.80">10</text>
<text transform="scale(0.9835,1)" x="524.22" y="548.00">4</text>
<rect x="530" y="533" width="4" height="1" fill="#000"/>
<rect x="530" y="525" width="4" height="1" fill="#000"/>
<rect x="530" y="519" width="4" height="1" fill="#000"/>
<rect x="530" y="515" width="4" height="1" fill="#000"/>
<rect x="530" y="511" width="4" height="1" fill="#000"/>
<rect x="530" y="508" width="4" height="1" fill="#000"/>
<rect x="530" y="506" width="4" height="1" fill="#000"/>
<rect x="530" y="504" width="4" height="1" fill="#000"/>
<rect x="526" y="502" width="8" height="1" fill="#000"/>
<text transform="scale(1.0161,1)" x="493.08 500.05" y="508.80">10</text>
<text transform="scale(1.0453,1)" x="493.07" y="504.00">5</text>
<rect x="530" y="488" width="4" height="1" fill="#000"/>
<rect x="530" y="480" width="4" height="1" fill="#000"/>
<rect x="530" y="475" width="4" height="1" fill="#000"/>
<rect x="530" y="470" width="4" height="1" fill="#000"/>
<rect x="530" y="467" width="4" height="1" fill="#000"/>
<rect x="530" y="464" width="4" height="1" fill="#000"/>
<rect x="530" y="461" width="4" height="1" fill="#000"/>
<rect x="530" y="459" width="4" height="1" fill="#000"/>
<rect x="526" y="457" width="8" height="1" fill="#000"/>
<text transform="scale(1.0161,1)" x="493.08 500.05" y="463.80">10</text>
<text transform="scale(1.0740,1)" x="479.69" y="459.00">6</text>
<rect x="540" y="602" width="1" height="5" fill="#000"/>
<rect x="547" y="602" width="1" height="5" fill="#000"/>
<rect x="554" y="602" width="1" height="5" fill="#000"/>
<rect x="559" y="602" width="1" height="5" fill="#000"/>
<rect x="564" y="602" width="1" height="5" fill="#000"/>
<rect x="569" y="602" width="1" height="9" fill="#000"/>
<text transform="scale(1.0161,1)" x="550.11 557.08" y="624.70">10</text>
<text transform="scale(1.0453,1)" x="548.28" y="620.10">3</text>
<rect x="598" y="602" width="1" height="5" fill="#000"/>
<rect x="615" y="602" width="1" height="5" fill="#000"/>
<rect x="627" y="602" width="1" height="5" fill="#000"/>
<rect x="636" y="602" width="1" height="5" fill="#000"/>
<rect x="644" y="602" width="1" height="5" fill="#000"/>
<rect x="650" y="602" width="1" height="5" fill="#000"/>
<rect x="656" y="602" width="1" height="5" fill="#000"/>
<rect x="660" y="602" width="1" height="5" fill="#000"/>
<rect x="665" y="602" width="1" height="9" fill="#000"/>
<text transform="scale(1.0161,1)" x="644.59 651.56" y="624.70">10</text>
<text transform="scale(0.9835,1)" x="680.55" y="620.10">4</text>
<rect x="694" y="602" width="1" height="5" fill="#000"/>
<rect x="711" y="602" width="1" height="5" fill="#000"/>
<rect x="723" y="602" width="1" height="5" fill="#000"/>
<rect x="732" y="602" width="1" height="5" fill="#000"/>
<rect x="740" y="602" width="1" height="5" fill="#000"/>
<rect x="746" y="602" width="1" height="5" fill="#000"/>
<rect x="752" y="602" width="1" height="5" fill="#000"/>
<rect x="757" y="602" width="1" height="5" fill="#000"/>
<rect x="761" y="602" width="1" height="9" fill="#000"/>
<text transform="scale(1.0161,1)" x="739.07 746.03" y="624.70">10</text>
<text transform="scale(1.0453,1)" x="732.00" y="620.10">5</text>
<rect x="790" y="602" width="1" height="5" fill="#000"/>
<rect x="807" y="602" width="1" height="5" fill="#000"/>
<rect x="819" y="602" width="1" height="5" fill="#000"/>
<rect x="828" y="602" width="1" height="5" fill="#000"/>
<rect x="836" y="602" width="1" height="5" fill="#000"/>
<rect x="842" y="602" width="1" height="5" fill="#000"/>
<rect x="848" y="602" width="1" height="5" fill="#000"/>
<text transform="scale(1.0138,1)" x="456.54 462.82 470.49 478.69 485.14 488.40 496.86 504.13 513.11 516.20 523.08 530.41 533.95 537.69 544.77 551.86 558.95 565.76 570.05 577.14 584.22 591.11 594.65 597.95 604.60 611.48 615.02 618.17 625.73 632.90 640.68 644.22 647.84 654.70 657.79 664.59 671.09 675.25 679.69 686.63 693.38 699.30 702.84 705.93 712.40 720.12 727.08 730.73 734.15 742.39 751.26 760.85 764.14 772.43 779.97 786.41 789.71 796.37 804.54 808.28 815.36 822.45 829.53 836.62 843.71 850.79 857.88 864.77 868.31 872.05 879.13 886.02 889.44 895.45 902.25" y="436.90">LANL GEO EP, 1981-025, L1, CPA, electrons, FCF: NOMINAL TC 07272011, 60 sec</text>
<text transform="translate(493.4,524) rotate(-90) scale(1.0317,1)" x="-47.50 -41.38 -34.52 -27.67 -20.56 -16.60 -10.47 -4.35 2.51 9.36 16.46 20.43 27.30 33.42 39.79" y="0">_45pt0_65pt0keV</text>
<text transform="scale(1.0190,1)" x="631.67 637.78 644.62 651.46 658.55 662.51 668.62 674.73 681.57 688.41 695.50 699.46 706.31 712.41 718.77" y="640.70">_65pt0_95pt0keV</text>
<rect x="238.7" y="486.1" width="1.2" height="1.2" fill="#000"/>
<rect x="235.0" y="486.0" width="1.2" height="1.2" fill="#000"/>
<rect x="236.9" y="482.4" width="1.2" height="1.2" fill="#000"/>
<rect x="244.7" y="482.3" width="1.2" height="1.2" fill="#000"/>
<rect x="238.0" y="484.8" width="1.2" height="1.2" fill="#000"/>
<rect x="241.9" y="482.2" width="1.2" height="1.2" fill="#000"/>
<rect x="239.6" y="480.1" width="1.2" height="1.2" fill="#000"/>
<rect x="236.4" y="482.0" width="1.2" height="1.2" fill="#000"/>
<rect x="232.6" y="479.7" width="1.2" height="1.2" fill="#000"/>
<rect x="232.0" y="483.2" width="1.2" height="1.2" fill="#000"/>
<rect x="237.2" y="482.2" width="1.2" height="1.2" fill="#000"/>
<rect x="237.6" y="479.4" width="1.2" height="1.2" fill="#000"/>
<rect x="237.7" y="483.6" width="1.2" height="1.2" fill="#000"/>
<rect x="240.2" y="480.3" width="1.2" height="1.2" fill="#000"/>
<rect x="235.7" y="477.9" width="1.2" height="1.2" fill="#000"/>
<rect x="235.3" y="477.5" width="1.2" height="1.2" fill="#000"/>
<rect x="233.3" y="486.5" width="1.2" height="1.2" fill="#000"/>
<rect x="230.4" y="486.1" width="1.2" height="1.2" fill="#000"/>
<rect x="238.9" y="481.9" width="1.2" height="1.2" fill="#000"/>
<rect x="239.7" y="484.0" width="1.2" height="1.2" fill="#000"/>
<rect x="241.5" y="481.7" width="1.2" height="1.2" fill="#000"/>
<rect x="235.6" y="481.7" width="1.2" height="1.2" fill="#000"/>
<rect x="234.4" y="483.3" width="1.2" height="1.2" fill="#000"/>
<rect x="235.5" y="486.1" width="1.2" height="1.2" fill="#000"/>
<rect x="230.8" y="481.1" width="1.2" height="1.2" fill="#000"/>
<rect x="233.7" y="478.0" width="1.2" height="1.2" fill="#000"/>
<rect x="243.7" y="475.7" width="1.2" height="1.2" fill="#000"/>
<rect x="236.7" y="481.7" width="1.2" height="1.2" fill="#000"/>
<rect x="243.0" y="476.9" width="1.2" height="1.2" fill="#000"/>
<rect x="241.4" y="480.4" width="1.2" height="1.2" fill="#000"/>
<rect x="237.1" y="481.3" width="1.2" height="1.2" fill="#000"/>
<rect x="239.7" y="479.6" width="1.2" height="1.2" fill="#000"/>
<rect x="237.8" y="483.9" width="1.2" height="1.2" fill="#000"/>
<rect x="243.5" y="475.7" width="1.2" height="1.2" fill="#000"/>
<rect x="256.8" y="481.9" width="1.2" height="1.2" fill="#000"/>
<rect x="249.4" y="481.6" width="1.2" height="1.2" fill="#000"/>
<rect x="250.2" y="485.3" width="1.2" height="1.2" fill="#000"/>
<rect x="251.5" y="479.7" width="1.2" height="1.2" fill="#000"/>
<rect x="250.0" y="480.0" width="1.2" height="1.2" fill="#000"/>
<rect x="249.8" y="478.1" width="1.2" height="1.2" fill="#000"/>
<rect x="257.1" y="473.7" width="1.2" height="1.2" fill="#000"/>
<rect x="238.1" y="482.6" width="1.2" height="1.2" fill="#000"/>
<rect x="250.6" y="481.5" width="1.2" height="1.2" fill="#000"/>
<rect x="250.1" y="480.1" width="1.2" height="1.2" fill="#000"/>
<rect x="252.6" y="482.8" width="1.2" height="1.2" fill="#000"/>
<rect x="249.1" y="479.7" width="1.2" height="1.2" fill="#000"/>
<rect x="258.0" y="480.5" width="1.2" height="1.2" fill="#000"/>
<rect x="248.7" y="487.5" width="1.2" height="1.2" fill="#000"/>
<rect x="253.3" y="478.2" width="1.2" height="1.2" fill="#000"/>
<rect x="246.9" y="482.1" width="1.2" height="1.2" fill="#000"/>
<rect x="247.4" y="478.1" width="1.2" height="1.2" fill="#000"/>
<rect x="246.0" y="479.9" width="1.2" height="1.2" fill="#000"/>
<rect x="254.6" y="478.4" width="1.2" height="1.2" fill="#000"/>
<rect x="246.2" y="483.3" width="1.2" height="1.2" fill="#000"/>
<rect x="251.6" y="482.7" width="1.2" height="1.2" fill="#000"/>
<rect x="255.0" y="479.1" width="1.2" height="1.2" fill="#000"/>
<rect x="250.4" y="480.4" width="1.2" height="1.2" fill="#000"/>
<rect x="247.3" y="483.0" width="1.2" height="1.2" fill="#000"/>
<rect x="255.8" y="479.9" width="1.2" height="1.2" fill="#000"/>
<rect x="249.9" y="479.9" width="1.2" height="1.2" fill="#000"/>
<rect x="247.7" y="478.8" width="1.2" height="1.2" fill="#000"/>
<rect x="249.0" y="478.4" width="1.2" height="1.2" fill="#000"/>
<rect x="248.5" y="476.4" width="1.2" height="1.2" fill="#000"/>
<rect x="252.2" y="480.3" width="1.2" height="1.2" fill="#000"/>
<rect x="245.6" y="474.9" width="1.2" height="1.2" fill="#000"/>
<rect x="251.5" y="483.4" width="1.2" height="1.2" fill="#000"/>
<rect x="248.0" y="479.6" width="1.2" height="1.2" fill="#000"/>
<rect x="249.3" y="482.6" width="1.2" height="1.2" fill="#000"/>
<rect x="248.2" y="483.8" width="1.2" height="1.2" fill="#000"/>
<rect x="250.3" y="483.2" width="1.2" height="1.2" fill="#000"/>
<rect x="250.9" y="479.7" width="1.2" height="1.2" fill="#000"/>
<rect x="245.3" y="479.6" width="1.2" height="1.2" fill="#000"/>
<rect x="250.3" y="482.4" width="1.2" height="1.2" fill="#000"/>
<rect x="251.4" y="478.3" width="1.2" height="1.2" fill="#000"/>
<rect x="252.9" y="482.8" width="1.2" height="1.2" fill="#000"/>
<rect x="250.1" y="479.3" width="1.2" height="1.2" fill="#000"/>
<rect x="250.0" y="482.9" width="1.2" height="1.2" fill="#000"/>
<rect x="252.3" y="477.5" width="1.2" height="1.2" fill="#000"/>
<rect x="252.0" y="478.8" width="1.2" height="1.2" fill="#000"/>
<rect x="248.9" y="484.3" width="1.2" height="1.2" fill="#000"/>
<rect x="253.4" y="477.8" width="1.2" height="1.2" fill="#000"/>
<rect x="251.5" y="481.7" width="1.2" height="1.2" fill="#000"/>
<rect x="262.1" y="475.7" width="1.2" height="1.2" fill="#000"/>
<rect x="266.1" y="470.7" width="1.2" height="1.2" fill="#000"/>
<rect x="265.9" y="477.4" width="1.2" height="1.2" fill="#000"/>
<rect x="265.7" y="472.0" width="1.2" height="1.2" fill="#000"/>
<rect x="265.2" y="473.3" width="1.2" height="1.2" fill="#000"/>
<rect x="266.7" y="476.9" width="1.2" height="1.2" fill="#000"/>
<rect x="264.9" y="473.6" width="1.2" height="1.2" fill="#000"/>
<rect x="262.6" y="478.2" width="1.2" height="1.2" fill="#000"/>
<rect x="261.4" y="477.5" width="1.2" height="1.2" fill="#000"/>
<rect x="266.1" y="474.7" width="1.2" height="1.2" fill="#000"/>
<rect x="273.0" y="474.6" width="1.2" height="1.2" fill="#000"/>
<rect x="271.3" y="469.4" width="1.2" height="1.2" fill="#000"/>
<rect x="256.8" y="479.4" width="1.2" height="1.2" fill="#000"/>
<rect x="266.5" y="474.6" width="1.2" height="1.2" fill="#000"/>
<rect x="263.5" y="470.8" width="1.2" height="1.2" fill="#000"/>
<rect x="261.8" y="473.4" width="1.2" height="1.2" fill="#000"/>
<rect x="264.0" y="478.1" width="1.2" height="1.2" fill="#000"/>
<rect x="264.7" y="476.6" width="1.2" height="1.2" fill="#000"/>
<rect x="261.7" y="475.0" width="1.2" height="1.2" fill="#000"/>
<rect x="264.7" y="474.9" width="1.2" height="1.2" fill="#000"/>
<rect x="268.6" y="472.8" width="1.2" height="1.2" fill="#000"/>
<rect x="270.8" y="472.2" width="1.2" height="1.2" fill="#000"/>
<rect x="267.9" y="473.1" width="1.2" height="1.2" fill="#000"/>
<rect x="270.3" y="475.2" width="1.2" height="1.2" fill="#000"/>
<rect x="266.1" y="477.4" width="1.2" height="1.2" fill="#000"/>
<rect x="261.7" y="473.4" width="1.2" height="1.2" fill="#000"/>
<rect x="257.7" y="479.9" width="1.2" height="1.2" fill="#000"/>
<rect x="261.7" y="474.6" width="1.2" height="1.2" fill="#000"/>
<rect x="265.1" y="480.8" width="1.2" height="1.2" fill="#000"/>
<rect x="258.3" y="477.3" width="1.2" height="1.2" fill="#000"/>
<rect x="263.2" y="477.3" width="1.2" height="1.2" fill="#000"/>
<rect x="257.8" y="475.6" width="1.2" height="1.2" fill="#000"/>
<rect x="268.0" y="479.3" width="1.2" height="1.2" fill="#000"/>
<rect x="269.8" y="472.6" width="1.2" height="1.2" fill="#000"/>
<rect x="264.6" y="475.4" width="1.2" height="1.2" fill="#000"/>
<rect x="258.9" y="472.7" width="1.2" height="1.2" fill="#000"/>
<rect x="267.2" y="475.9" width="1.2" height="1.2" fill="#000"/>
<rect x="264.4" y="478.9" width="1.2" height="1.2" fill="#000"/>
<rect x="261.0" y="477.6" width="1.2" height="1.2" fill="#000"/>
<rect x="264.4" y="475.5" width="1.2" height="1.2" fill="#000"/>
<rect x="266.2" y="475.9" width="1.2" height="1.2" fill="#000"/>
<rect x="265.5" y="476.2" width="1.2" height="1.2" fill="#000"/>
<rect x="271.2" y="473.9" width="1.2" height="1.2" fill="#000"/>
<rect x="268.2" y="476.7" width="1.2" height="1.2" fill="#000"/>
<rect x="263.5" y="477.9" width="1.2" height="1.2" fill="#000"/>
<rect x="261.8" y="479.1" width="1.2" height="1.2" fill="#000"/>
<rect x="261.3" y="474.9" width="1.2" height="1.2" fill="#000"/>
<rect x="265.9" y="477.7" width="1.2" height="1.2" fill="#000"/>
<rect x="268.0" y="477.5" width="1.2" height="1.2" fill="#000"/>
<rect x="263.3" y="473.4" width="1.2" height="1.2" fill="#000"/>
<rect x="266.5" y="476.2" width="1.2" height="1.2" fill="#000"/>
<rect x="261.4" y="478.7" width="1.2" height="1.2" fill="#000"/>
<rect x="264.7" y="473.1" width="1.2" height="1.2" fill="#000"/>
<rect x="265.5" y="472.1" width="1.2" height="1.2" fill="#000"/>
<rect x="261.4" y="477.2" width="1.2" height="1.2" fill="#000"/>
<rect x="258.9" y="476.6" width="1.2" height="1.2" fill="#000"/>
<rect x="259.9" y="478.3" width="1.2" height="1.2" fill="#000"/>
<rect x="261.9" y="476.6" width="1.2" height="1.2" fill="#000"/>
<rect x="258.9" y="475.6" width="1.2" height="1.2" fill="#000"/>
<rect x="267.9" y="476.4" width="1.2" height="1.2" fill="#000"/>
<rect x="258.2" y="479.1" width="1.2" height="1.2" fill="#000"/>
<rect x="267.4" y="474.3" width="1.2" height="1.2" fill="#000"/>
<rect x="269.0" y="472.2" width="1.2" height="1.2" fill="#000"/>
<rect x="264.5" y="478.6" width="1.2" height="1.2" fill="#000"/>
<rect x="269.6" y="478.3" width="1.2" height="1.2" fill="#000"/>
<rect x="259.8" y="471.7" width="1.2" height="1.2" fill="#000"/>
<rect x="265.2" y="471.8" width="1.2" height="1.2" fill="#000"/>
<rect x="263.4" y="472.5" width="1.2" height="1.2" fill="#000"/>
<rect x="268.5" y="477.2" width="1.2" height="1.2" fill="#000"/>
<rect x="266.4" y="475.4" width="1.2" height="1.2" fill="#000"/>
<rect x="264.4" y="474.9" width="1.2" height="1.2" fill="#000"/>
<rect x="265.9" y="476.1" width="1.2" height="1.2" fill="#000"/>
<rect x="265.9" y="474.4" width="1.2" height="1.2" fill="#000"/>
<rect x="271.3" y="475.4" width="1.2" height="1.2" fill="#000"/>
<rect x="269.9" y="478.4" width="1.2" height="1.2" fill="#000"/>
<rect x="260.6" y="471.8" width="1.2" height="1.2" fill="#000"/>
<rect x="268.7" y="474.0" width="1.2" height="1.2" fill="#000"/>
<rect x="264.6" y="475.0" width="1.2" height="1.2" fill="#000"/>
<rect x="264.4" y="472.6" width="1.2" height="1.2" fill="#000"/>
<rect x="263.9" y="474.6" width="1.2" height="1.2" fill="#000"/>
<rect x="274.9" y="471.2" width="1.2" height="1.2" fill="#000"/>
<rect x="276.4" y="475.4" width="1.2" height="1.2" fill="#000"/>
<rect x="271.8" y="473.7" width="1.2" height="1.2" fill="#000"/>
<rect x="275.0" y="475.9" width="1.2" height="1.2" fill="#000"/>
<rect x="274.9" y="477.1" width="1.2" height="1.2" fill="#000"/>
<rect x="274.9" y="473.3" width="1.2" height="1.2" fill="#000"/>
<rect x="273.7" y="476.1" width="1.2" height="1.2" fill="#000"/>
<rect x="273.8" y="476.2" width="1.2" height="1.2" fill="#000"/>
<rect x="276.7" y="475.8" width="1.2" height="1.2" fill="#000"/>
<rect x="276.7" y="474.6" width="1.2" height="1.2" fill="#000"/>
<rect x="274.9" y="474.0" width="1.2" height="1.2" fill="#000"/>
<rect x="273.8" y="472.4" width="1.2" height="1.2" fill="#000"/>
<rect x="272" y="484" width="1.2" height="1.2" fill="#000"/>
<rect x="261" y="470" width="1.2" height="1.2" fill="#000"/>
<rect x="689.5" y="523.9" width="1.2" height="1.2" fill="#000"/>
<rect x="687.5" y="525.5" width="1.2" height="1.2" fill="#000"/>
<rect x="686.0" y="527.1" width="1.2" height="1.2" fill="#000"/>
<rect x="685.3" y="528.4" width="1.2" height="1.2" fill="#000"/>
<rect x="680.3" y="531.6" width="1.2" height="1.2" fill="#000"/>
<rect x="679.3" y="532.5" width="1.2" height="1.2" fill="#000"/>
<rect x="677.2" y="534.0" width="1.2" height="1.2" fill="#000"/>
<rect x="675.1" y="534.6" width="1.2" height="1.2" fill="#000"/>
<rect x="673.8" y="535.3" width="1.2" height="1.2" fill="#000"/>
<rect x="670.6" y="535.2" width="1.2" height="1.2" fill="#000"/>
<rect x="670.0" y="535.7" width="1.2" height="1.2" fill="#000"/>
<rect x="668.3" y="536.9" width="1.2" height="1.2" fill="#000"/>
<rect x="666.7" y="537.0" width="1.2" height="1.2" fill="#000"/>
<rect x="662.3" y="538.2" width="1.2" height="1.2" fill="#000"/>
<rect x="660.2" y="538.0" width="1.2" height="1.2" fill="#000"/>
<rect x="659.2" y="535.7" width="1.2" height="1.2" fill="#000"/>
<rect x="657.1" y="533.7" width="1.2" height="1.2" fill="#000"/>
<rect x="656.0" y="532.4" width="1.2" height="1.2" fill="#000"/>
<rect x="653.7" y="532.3" width="1.2" height="1.2" fill="#000"/>
<rect x="658.1" y="529.6" width="1.2" height="1.2" fill="#000"/>
<rect x="662.1" y="527.5" width="1.2" height="1.2" fill="#000"/>
<rect x="665.1" y="525.3" width="1.2" height="1.2" fill="#000"/>
<rect x="666.5" y="524.8" width="1.2" height="1.2" fill="#000"/>
<rect x="668.9" y="524.6" width="1.2" height="1.2" fill="#000"/>
<rect x="671.6" y="523.9" width="1.2" height="1.2" fill="#000"/>
<rect x="673.5" y="522.6" width="1.2" height="1.2" fill="#000"/>
<rect x="676.5" y="521.7" width="1.2" height="1.2" fill="#000"/>
<rect x="657.2" y="535.7" width="1.2" height="1.2" fill="#000"/>
<rect x="657.8" y="532.1" width="1.2" height="1.2" fill="#000"/>
<rect x="655.7" y="533.8" width="1.2" height="1.2" fill="#000"/>
<rect x="658.8" y="534.0" width="1.2" height="1.2" fill="#000"/>
<rect x="656.6" y="535.5" width="1.2" height="1.2" fill="#000"/>
<rect x="656.3" y="535.7" width="1.2" height="1.2" fill="#000"/>
<rect x="655.3" y="532.6" width="1.2" height="1.2" fill="#000"/>
<rect x="657.4" y="535.3" width="1.2" height="1.2" fill="#000"/>
<rect x="657.5" y="533.9" width="1.2" height="1.2" fill="#000"/>
<rect x="654.3" y="532.6" width="1.2" height="1.2" fill="#000"/>
<rect x="655.4" y="532.5" width="1.2" height="1.2" fill="#000"/>
<rect x="657.4" y="532.8" width="1.2" height="1.2" fill="#000"/>
<rect x="657.7" y="533.5" width="1.2" height="1.2" fill="#000"/>
<rect x="655.8" y="533.6" width="1.2" height="1.2" fill="#000"/>
<rect x="661.6" y="538.1" width="1.2" height="1.2" fill="#000"/>
<rect x="660.1" y="537.2" width="1.2" height="1.2" fill="#000"/>
<rect x="659.4" y="538.3" width="1.2" height="1.2" fill="#000"/>
<rect x="662.9" y="537.3" width="1.2" height="1.2" fill="#000"/>
<rect x="660.2" y="536.5" width="1.2" height="1.2" fill="#000"/>
<rect x="661.2" y="537.6" width="1.2" height="1.2" fill="#000"/>
<rect x="663.3" y="537.5" width="1.2" height="1.2" fill="#000"/>
<rect x="660.2" y="536.3" width="1.2" height="1.2" fill="#000"/>
<rect x="662.9" y="537.5" width="1.2" height="1.2" fill="#000"/>
<rect x="658.8" y="537.5" width="1.2" height="1.2" fill="#000"/>
<rect x="677.5" y="526.6" width="1.2" height="1.2" fill="#000"/>
<rect x="685.3" y="525.8" width="1.2" height="1.2" fill="#000"/>
<rect x="680.9" y="520.5" width="1.2" height="1.2" fill="#000"/>
<rect x="680.9" y="520.9" width="1.2" height="1.2" fill="#000"/>
<rect x="683.2" y="521.0" width="1.2" height="1.2" fill="#000"/>
<rect x="677.1" y="525.7" width="1.2" height="1.2" fill="#000"/>
<rect x="686.4" y="522.8" width="1.2" height="1.2" fill="#000"/>
<rect x="675.3" y="524.6" width="1.2" height="1.2" fill="#000"/>
<rect x="684.6" y="522.4" width="1.2" height="1.2" fill="#000"/>
<rect x="678.1" y="521.9" width="1.2" height="1.2" fill="#000"/>
<rect x="676.4" y="521.9" width="1.2" height="1.2" fill="#000"/>
<rect x="685.5" y="526.0" width="1.2" height="1.2" fill="#000"/>
<rect x="687.4" y="524.7" width="1.2" height="1.2" fill="#000"/>
<rect x="680.6" y="521.7" width="1.2" height="1.2" fill="#000"/>
<rect x="680.8" y="521.2" width="1.2" height="1.2" fill="#000"/>
<rect x="674.8" y="524.2" width="1.2" height="1.2" fill="#000"/>
<rect x="685.9" y="526.2" width="1.2" height="1.2" fill="#000"/>
<rect x="686.1" y="525.2" width="1.2" height="1.2" fill="#000"/>
<rect x="677.6" y="523.6" width="1.2" height="1.2" fill="#000"/>
<rect x="679.7" y="521.4" width="1.2" height="1.2" fill="#000"/>
<rect x="676.2" y="521.0" width="1.2" height="1.2" fill="#000"/>
<rect x="680.8" y="524.3" width="1.2" height="1.2" fill="#000"/>
<rect x="678.7" y="526.3" width="1.2" height="1.2" fill="#000"/>
<rect x="681.5" y="525.4" width="1.2" height="1.2" fill="#000"/>
<rect x="685.8" y="523.0" width="1.2" height="1.2" fill="#000"/>
<rect x="674.6" y="524.1" width="1.2" height="1.2" fill="#000"/>
<rect x="677.9" y="526.0" width="1.2" height="1.2" fill="#000"/>
<rect x="682.0" y="526.3" width="1.2" height="1.2" fill="#000"/>
<rect x="683.6" y="521.1" width="1.2" height="1.2" fill="#000"/>
<rect x="684.3" y="522.9" width="1.2" height="1.2" fill="#000"/>
<rect x="677.7" y="522.4" width="1.2" height="1.2" fill="#000"/>
<rect x="683.8" y="526.2" width="1.2" height="1.2" fill="#000"/>
<rect x="684.6" y="521.7" width="1.2" height="1.2" fill="#000"/>
<rect x="679.8" y="520.4" width="1.2" height="1.2" fill="#000"/>
<rect x="680.2" y="525.2" width="1.2" height="1.2" fill="#000"/>
<rect x="677.4" y="523.9" width="1.2" height="1.2" fill="#000"/>
<rect x="681.6" y="526.2" width="1.2" height="1.2" fill="#000"/>
<rect x="677.7" y="521.7" width="1.2" height="1.2" fill="#000"/>
<rect x="677.9" y="526.4" width="1.2" height="1.2" fill="#000"/>
<rect x="685.6" y="524.3" width="1.2" height="1.2" fill="#000"/>
<rect x="685.5" y="527.1" width="1.2" height="1.2" fill="#000"/>
<rect x="685.4" y="526.5" width="1.2" height="1.2" fill="#000"/>
<rect x="684.2" y="525.1" width="1.2" height="1.2" fill="#000"/>
<rect x="683.8" y="529.0" width="1.2" height="1.2" fill="#000"/>
<rect x="686.2" y="527.0" width="1.2" height="1.2" fill="#000"/>
<rect x="684.4" y="527.0" width="1.2" height="1.2" fill="#000"/>
<rect x="685.7" y="525.8" width="1.2" height="1.2" fill="#000"/>
<rect x="685.4" y="527.3" width="1.2" height="1.2" fill="#000"/>
<rect x="683.3" y="525.7" width="1.2" height="1.2" fill="#000"/>
<rect x="683.0" y="525.4" width="1.2" height="1.2" fill="#000"/>
<rect x="686.1" y="524.6" width="1.2" height="1.2" fill="#000"/>
<rect x="684.3" y="525.9" width="1.2" height="1.2" fill="#000"/>
<rect x="683.4" y="527.1" width="1.2" height="1.2" fill="#000"/>
<rect x="687.3" y="527.0" width="1.2" height="1.2" fill="#000"/>
<rect x="684.6" y="525.9" width="1.2" height="1.2" fill="#000"/>
<rect x="684.6" y="528.4" width="1.2" height="1.2" fill="#000"/>
<rect x="684.1" y="525.2" width="1.2" height="1.2" fill="#000"/>
<rect x="682.6" y="525.5" width="1.2" height="1.2" fill="#000"/>
<rect x="682.5" y="528.3" width="1.2" height="1.2" fill="#000"/>
<rect x="685.8" y="526.5" width="1.2" height="1.2" fill="#000"/>
<rect x="687.6" y="526.0" width="1.2" height="1.2" fill="#000"/>
<rect x="686.5" y="528.1" width="1.2" height="1.2" fill="#000"/>
<rect x="682.5" y="525.2" width="1.2" height="1.2" fill="#000"/>
<rect x="683.0" y="528.2" width="1.2" height="1.2" fill="#000"/>
<rect x="687.2" y="525.4" width="1.2" height="1.2" fill="#000"/>
<rect x="675.5" y="526.6" width="1.2" height="1.2" fill="#000"/>
<rect x="677.6" y="526.6" width="1.2" height="1.2" fill="#000"/>
<rect x="679.9" y="527.3" width="1.2" height="1.2" fill="#000"/>
<rect x="680.9" y="527.8" width="1.2" height="1.2" fill="#000"/>
<rect x="683.3" y="518.5" width="1.2" height="1.2" fill="#000"/>
<rect x="685.2" y="517.2" width="1.2" height="1.2" fill="#000"/>
<rect x="687.8" y="515.4" width="1.2" height="1.2" fill="#000"/>
<rect x="689.3" y="515.0" width="1.2" height="1.2" fill="#000"/>
<rect x="699.1" y="512.1" width="1.2" height="1.2" fill="#000"/>
<rect x="697.6" y="512.5" width="1.2" height="1.2" fill="#000"/>
<rect x="693.9" y="516.5" width="1.2" height="1.2" fill="#000"/>
<rect x="704.0" y="514.6" width="1.2" height="1.2" fill="#000"/>
<rect x="697.0" y="515.3" width="1.2" height="1.2" fill="#000"/>
<rect x="699.5" y="512.3" width="1.2" height="1.2" fill="#000"/>
<rect x="694.2" y="515.9" width="1.2" height="1.2" fill="#000"/>
<rect x="697.0" y="514.9" width="1.2" height="1.2" fill="#000"/>
<rect x="696.5" y="517.8" width="1.2" height="1.2" fill="#000"/>
<rect x="703.4" y="513.1" width="1.2" height="1.2" fill="#000"/>
<rect x="704.5" y="511.1" width="1.2" height="1.2" fill="#000"/>
<rect x="695.4" y="515.6" width="1.2" height="1.2" fill="#000"/>
<rect x="703.1" y="516.4" width="1.2" height="1.2" fill="#000"/>
<rect x="695.2" y="516.0" width="1.2" height="1.2" fill="#000"/>
<rect x="708.1" y="513.3" width="1.2" height="1.2" fill="#000"/>
<rect x="696.3" y="515.6" width="1.2" height="1.2" fill="#000"/>
<rect x="702.1" y="512.0" width="1.2" height="1.2" fill="#000"/>
<rect x="694.9" y="516.3" width="1.2" height="1.2" fill="#000"/>
<rect x="706.0" y="514.3" width="1.2" height="1.2" fill="#000"/>
<rect x="695.2" y="517.7" width="1.2" height="1.2" fill="#000"/>
<rect x="704.1" y="513.0" width="1.2" height="1.2" fill="#000"/>
<rect x="698.4" y="515.4" width="1.2" height="1.2" fill="#000"/>
<rect x="695.2" y="517.3" width="1.2" height="1.2" fill="#000"/>
<rect x="704.6" y="512.3" width="1.2" height="1.2" fill="#000"/>
<rect x="699.9" y="516.2" width="1.2" height="1.2" fill="#000"/>
<rect x="695.2" y="513.9" width="1.2" height="1.2" fill="#000"/>
<rect x="705.8" y="515.5" width="1.2" height="1.2" fill="#000"/>
<rect x="704.1" y="514.0" width="1.2" height="1.2" fill="#000"/>
<rect x="702.4" y="516.9" width="1.2" height="1.2" fill="#000"/>
<rect x="699.4" y="516.7" width="1.2" height="1.2" fill="#000"/>
<rect x="697.3" y="515.0" width="1.2" height="1.2" fill="#000"/>
<rect x="697.8" y="514.7" width="1.2" height="1.2" fill="#000"/>
<rect x="696.7" y="515.3" width="1.2" height="1.2" fill="#000"/>
<rect x="698.5" y="516.8" width="1.2" height="1.2" fill="#000"/>
<rect x="696.5" y="515.9" width="1.2" height="1.2" fill="#000"/>
<rect x="696.3" y="516.2" width="1.2" height="1.2" fill="#000"/>
<rect x="698.5" y="516.2" width="1.2" height="1.2" fill="#000"/>
<rect x="696.5" y="514.2" width="1.2" height="1.2" fill="#000"/>
<rect x="695.6" y="515.1" width="1.2" height="1.2" fill="#000"/>
<rect x="696.1" y="514.2" width="1.2" height="1.2" fill="#000"/>
<rect x="698.1" y="517.1" width="1.2" height="1.2" fill="#000"/>
<rect x="698.8" y="513.6" width="1.2" height="1.2" fill="#000"/>
<rect x="699.1" y="510.4" width="1.2" height="1.2" fill="#000"/>
<rect x="700.2" y="508.5" width="1.2" height="1.2" fill="#000"/>
<rect x="701.7" y="507.0" width="1.2" height="1.2" fill="#000"/>
<rect x="702.2" y="506.0" width="1.2" height="1.2" fill="#000"/>
<rect x="703.4" y="504.9" width="1.2" height="1.2" fill="#000"/>
<rect x="705.9" y="501.8" width="1.2" height="1.2" fill="#000"/>
<rect x="706.2" y="500.5" width="1.2" height="1.2" fill="#000"/>
<rect x="708.6" y="500.0" width="1.2" height="1.2" fill="#000"/>
<rect x="704.9" y="504.0" width="1.2" height="1.2" fill="#000"/>
<rect x="705.5" y="504.9" width="1.2" height="1.2" fill="#000"/>
<rect x="706.2" y="502.2" width="1.2" height="1.2" fill="#000"/>
<rect x="704.6" y="503.8" width="1.2" height="1.2" fill="#000"/>
<rect x="705.3" y="502.5" width="1.2" height="1.2" fill="#000"/>
<rect x="703.4" y="502.9" width="1.2" height="1.2" fill="#000"/>
<rect x="702.3" y="505.3" width="1.2" height="1.2" fill="#000"/>
<rect x="702.5" y="505.6" width="1.2" height="1.2" fill="#000"/>
<rect x="706.0" y="502.6" width="1.2" height="1.2" fill="#000"/>
<rect x="704.1" y="502.9" width="1.2" height="1.2" fill="#000"/>
<rect x="702.1" y="505.7" width="1.2" height="1.2" fill="#000"/>
<rect x="703.3" y="504.9" width="1.2" height="1.2" fill="#000"/>
<rect x="718.4" y="498.2" width="1.2" height="1.2" fill="#000"/>
<rect x="720.3" y="496.6" width="1.2" height="1.2" fill="#000"/>
<rect x="717.3" y="495.9" width="1.2" height="1.2" fill="#000"/>
<rect x="718.3" y="496.0" width="1.2" height="1.2" fill="#000"/>
<rect x="714.5" y="499.1" width="1.2" height="1.2" fill="#000"/>
<rect x="712.9" y="498.7" width="1.2" height="1.2" fill="#000"/>
<rect x="717.1" y="496.6" width="1.2" height="1.2" fill="#000"/>
<rect x="719.3" y="495.9" width="1.2" height="1.2" fill="#000"/>
<rect x="716.8" y="495.9" width="1.2" height="1.2" fill="#000"/>
<rect x="714.0" y="499.4" width="1.2" height="1.2" fill="#000"/>
<rect x="718.7" y="495.9" width="1.2" height="1.2" fill="#000"/>
<rect x="716.6" y="496.0" width="1.2" height="1.2" fill="#000"/>
<rect x="714.3" y="499.2" width="1.2" height="1.2" fill="#000"/>
<rect x="718.9" y="497.4" width="1.2" height="1.2" fill="#000"/>
<rect x="716.3" y="497.8" width="1.2" height="1.2" fill="#000"/>
<rect x="715.2" y="499.3" width="1.2" height="1.2" fill="#000"/>
<rect x="715.2" y="497.4" width="1.2" height="1.2" fill="#000"/>
<rect x="719.5" y="496.2" width="1.2" height="1.2" fill="#000"/>
<rect x="715.4" y="499.3" width="1.2" height="1.2" fill="#000"/>
<rect x="714.0" y="497.9" width="1.2" height="1.2" fill="#000"/>
<rect x="714.1" y="499.6" width="1.2" height="1.2" fill="#000"/>
<rect x="714.3" y="497.1" width="1.2" height="1.2" fill="#000"/>
<rect x="716.5" y="495.8" width="1.2" height="1.2" fill="#000"/>
<rect x="719.7" y="496.9" width="1.2" height="1.2" fill="#000"/>
<rect x="716.3" y="496.8" width="1.2" height="1.2" fill="#000"/>
<rect x="716.1" y="498.0" width="1.2" height="1.2" fill="#000"/>
<rect x="720" y="496" width="1" height="1" fill="#000"/>
<rect x="694.8" y="501.2" width="1.2" height="1.2" fill="#000"/>
<rect x="698.2" y="499.2" width="1.2" height="1.2" fill="#000"/>
<rect x="700.8" y="497.6" width="1.2" height="1.2" fill="#000"/>
<rect x="702.2" y="496.8" width="1.2" height="1.2" fill="#000"/>
<rect x="703.6" y="496.3" width="1.2" height="1.2" fill="#000"/>
<rect x="706.0" y="494.7" width="1.2" height="1.2" fill="#000"/>
<rect x="706.9" y="494.1" width="1.2" height="1.2" fill="#000"/>
<rect x="708.8" y="493.0" width="1.2" height="1.2" fill="#000"/>
<rect x="709.9" y="492.4" width="1.2" height="1.2" fill="#000"/>
<rect x="712.1" y="492.2" width="1.2" height="1.2" fill="#000"/>
<rect x="714.3" y="491.0" width="1.2" height="1.2" fill="#000"/>
<rect x="691.5" y="504.0" width="1.2" height="1.2" fill="#000"/>
<rect x="691.4" y="506.0" width="1.2" height="1.2" fill="#000"/>
<rect x="693.5" y="507.7" width="1.2" height="1.2" fill="#000"/>
</svg>
</body></html>
